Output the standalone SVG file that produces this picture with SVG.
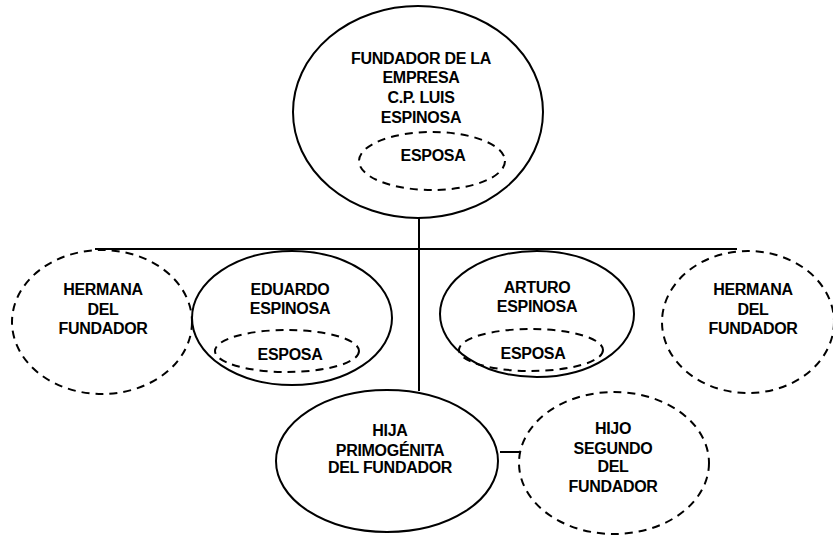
<svg xmlns="http://www.w3.org/2000/svg" width="833" height="536" viewBox="0 0 833 536">
<style>
.s{fill:none;stroke:#000;stroke-width:2}
.d{fill:none;stroke:#000;stroke-width:2;stroke-dasharray:8 6}
text{font-family:"Liberation Sans",Arial,sans-serif;font-weight:bold;font-size:16px;letter-spacing:-0.3px;text-anchor:middle;fill:#000}
</style>
<rect width="833" height="536" fill="#fff"/>
<g id="connectors" class="s">
<line x1="95" y1="249" x2="737" y2="249"/>
<line x1="419" y1="218" x2="419" y2="391"/>
<line x1="500" y1="452" x2="520" y2="452"/>
</g>
<g id="fundador">
<ellipse class="s" cx="418" cy="112" rx="125" ry="106"/>
<text x="421" y="64">FUNDADOR DE LA</text>
<text x="421" y="83">EMPRESA</text>
<text x="421" y="103">C.P. LUIS</text>
<text x="421" y="123">ESPINOSA</text>
<ellipse class="d" cx="432" cy="161" rx="73" ry="29"/>
<text x="433" y="161">ESPOSA</text>
</g>
<g id="hermana1">
<ellipse class="d" cx="102" cy="322" rx="90" ry="72"/>
<text x="103" y="295">HERMANA</text>
<text x="103" y="315">DEL</text>
<text x="103" y="334">FUNDADOR</text>
</g>
<g id="eduardo">
<ellipse class="s" cx="292" cy="318" rx="100" ry="67"/>
<text x="290" y="295">EDUARDO</text>
<text x="290" y="314">ESPINOSA</text>
<ellipse class="d" cx="287" cy="351" rx="72" ry="21"/>
<text x="290" y="360">ESPOSA</text>
</g>
<g id="arturo">
<ellipse class="s" cx="537" cy="314" rx="97" ry="63"/>
<text x="537" y="293">ARTURO</text>
<text x="537" y="312">ESPINOSA</text>
<ellipse class="d" cx="531" cy="350" rx="72" ry="21"/>
<text x="533" y="359">ESPOSA</text>
</g>
<g id="hermana2">
<ellipse class="d" cx="748" cy="322" rx="86" ry="71"/>
<text x="753" y="295">HERMANA</text>
<text x="753" y="315">DEL</text>
<text x="753" y="334">FUNDADOR</text>
</g>
<g id="hija">
<ellipse class="s" cx="387" cy="461" rx="111" ry="71"/>
<text x="390" y="436">HIJA</text>
<text x="390" y="456">PRIMOGÉNITA</text>
<text x="390" y="473">DEL FUNDADOR</text>
</g>
<g id="hijo">
<ellipse class="d" cx="614" cy="463" rx="95" ry="71"/>
<text x="613" y="434">HIJO</text>
<text x="613" y="454">SEGUNDO</text>
<text x="613" y="472">DEL</text>
<text x="613" y="492">FUNDADOR</text>
</g>
</svg>
